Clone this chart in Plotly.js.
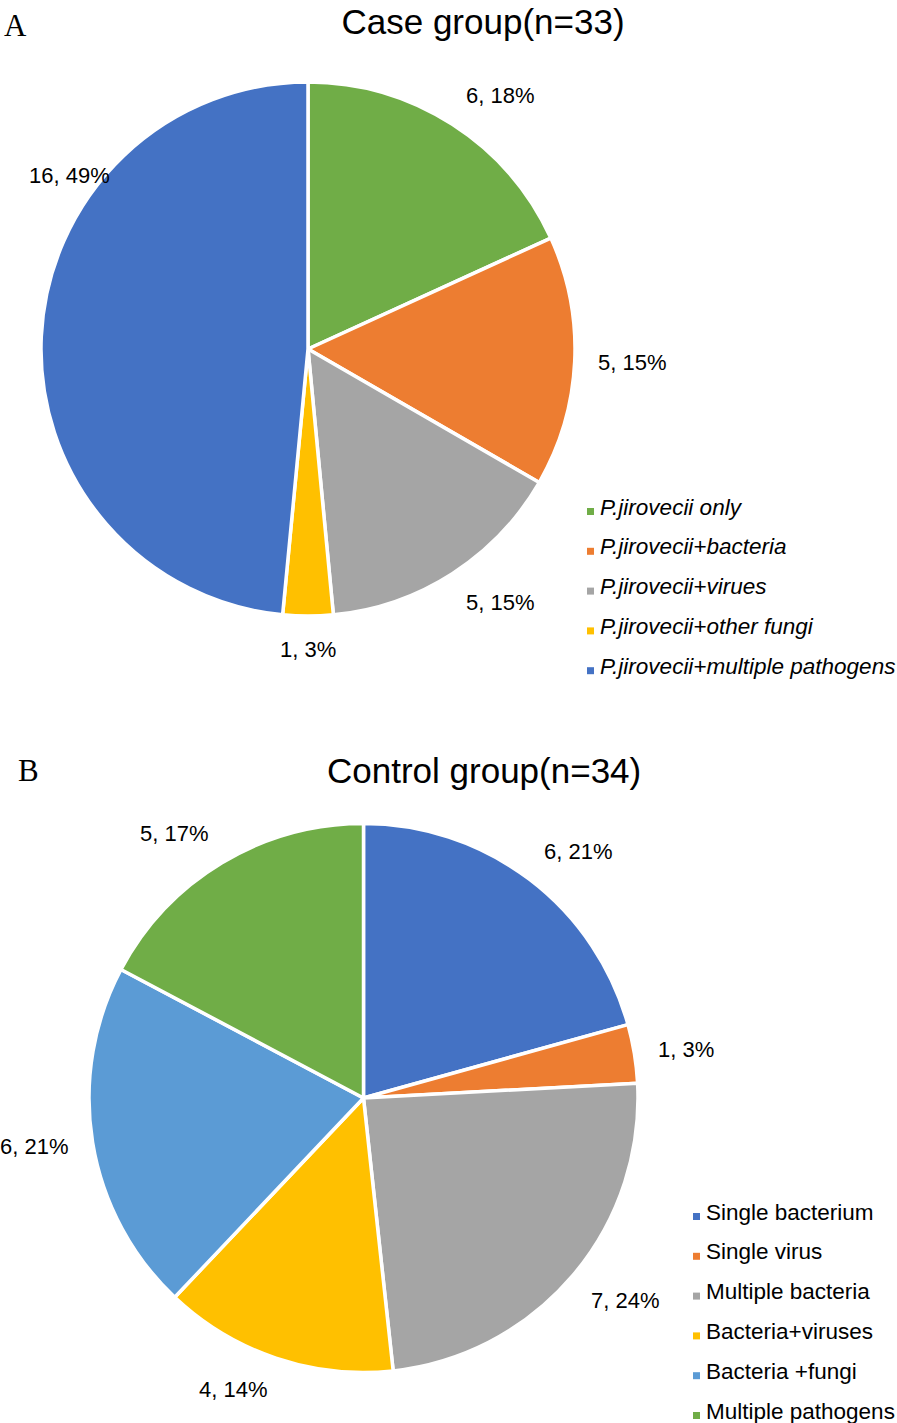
<!DOCTYPE html>
<html>
<head>
<meta charset="utf-8">
<script src="https://cdn.plot.ly/plotly-3.0.1.min.js"></script>
<style>html,body{margin:0;padding:0;background:#fff;} #chart{width:897px;height:1423px;}</style>
</head>
<body>
<div id="chart"></div>
<script>
// ---------- DATA ----------
const caseTitle = 'Case group(n=33)';
const caseLabels = ['P.jirovecii only', 'P.jirovecii+bacteria', 'P.jirovecii+virues', 'P.jirovecii+other fungi', 'P.jirovecii+multiple pathogens'];
const caseCounts = [6, 5, 5, 1, 16];
const casePercents = [18, 15, 15, 3, 49];

const controlTitle = 'Control group(n=34)';
const controlLabels = ['Single bacterium', 'Single virus', 'Multiple bacteria', 'Bacteria+viruses', 'Bacteria +fungi', 'Multiple pathogens'];
const controlCounts = [6, 1, 7, 4, 6, 5];
const controlPercents = [21, 3, 24, 14, 21, 17];

// ---------- STYLE / LAYOUT ----------
const W = 897, H = 1423;
const caseColors = ['#70AD47', '#ED7D31', '#A5A5A5', '#FFC000', '#4472C4'];
const controlColors = ['#4472C4', '#ED7D31', '#A5A5A5', '#FFC000', '#5B9BD5', '#70AD47'];
const SANS = 'Liberation Sans, Arial, sans-serif';
const SERIF = 'Liberation Serif, Times New Roman, serif';
const labelSize = 22, legendSize = 22.5, titleSize = 35;

const panels = [
  {letter: 'A', letterX: 15, letterY: 26, title: caseTitle, titleX: 483, titleY: 22,
   cx: 308, cy: 349, r: 267, labels: caseLabels, counts: caseCounts, pcts: casePercents,
   colors: caseColors, italic: true, legX: 590.5, legY: 507, legStep: 39.8,
   overrides: {4: {angle: 306, dist: 28}}},
  {letter: 'B', letterX: 28, letterY: 770, title: controlTitle, titleX: 484, titleY: 770,
   cx: 363.5, cy: 1098, r: 274.5, labels: controlLabels, counts: controlCounts, pcts: controlPercents,
   colors: controlColors, italic: false, legX: 696.5, legY: 1212, legStep: 39.8,
   overrides: {}}
];

const px = v => v / W;
const py = v => 1 - v / H;

const cnv = document.createElement('canvas');
const ctx = cnv.getContext('2d');
ctx.font = labelSize + 'px "Liberation Sans", Arial, sans-serif';
function textW(t) { return ctx.measureText(t).width; }

const traces = [];
const annotations = [];
const shapes = [];
const gap = 23, hh = 10;

panels.forEach((p, pi) => {
  traces.push({
    type: 'pie',
    values: p.counts,
    labels: p.labels,
    marker: {colors: p.colors, line: {color: '#ffffff', width: 3.5}},
    sort: false,
    direction: 'clockwise',
    rotation: 0,
    textinfo: 'none',
    hoverinfo: 'label+value+percent',
    showlegend: false,
    domain: {x: [px(p.cx - p.r), px(p.cx + p.r)], y: [py(p.cy + p.r), py(p.cy - p.r)]}
  });

  // data labels, positioned from the slice mid-angles
  const total = p.counts.reduce((a, b) => a + b, 0);
  let cum = 0;
  p.counts.forEach((v, i) => {
    const mid = (cum + v / 2) / total * 360;
    cum += v;
    const txt = v + ', ' + p.pcts[i] + '%';
    let x, y;
    const ov = p.overrides[i];
    if (ov) {
      const a = ov.angle * Math.PI / 180;
      x = p.cx + (p.r + ov.dist) * Math.sin(a);
      y = p.cy - (p.r + ov.dist) * Math.cos(a);
    } else {
      const a = mid * Math.PI / 180;
      const s = Math.sin(a), c = Math.cos(a);
      const Px = p.cx + (p.r + gap) * s, Py = p.cy - (p.r + gap) * c;
      const hw = textW(txt) / 2 + 1;
      const sx = Math.abs(s) < 0.1 ? 0 : Math.sign(s);
      const sy = Math.abs(c) < 0.2 ? 0 : Math.sign(c);
      x = Px + sx * hw;
      y = Py - sy * hh;
    }
    annotations.push({
      x: px(x), y: py(y), xref: 'paper', yref: 'paper', xanchor: 'center', yanchor: 'middle',
      text: txt, showarrow: false, font: {family: SANS, size: labelSize, color: '#000'}
    });
  });

  // legend entries
  p.labels.forEach((lab, i) => {
    const ry = p.legY + i * p.legStep;
    shapes.push({
      type: 'rect', xref: 'paper', yref: 'paper',
      x0: px(p.legX - 3.5), x1: px(p.legX + 3.5), y0: py(ry + 8), y1: py(ry + 1),
      fillcolor: p.colors[i], line: {width: 0}
    });
    annotations.push({
      x: px(p.legX + 7.5), y: py(ry), xref: 'paper', yref: 'paper', xanchor: 'left', yanchor: 'middle',
      text: p.italic ? '<i>' + lab + '</i>' : lab, showarrow: false,
      font: {family: SANS, size: legendSize, color: '#000'}
    });
  });

  // panel letter
  annotations.push({
    x: px(p.letterX), y: py(p.letterY), xref: 'paper', yref: 'paper', xanchor: 'center', yanchor: 'middle',
    text: p.letter, showarrow: false, font: {family: SERIF, size: 31, color: '#000'}
  });

  // second panel title as annotation
  if (pi === 1) {
    annotations.push({
      x: px(p.titleX), y: py(p.titleY), xref: 'paper', yref: 'paper', xanchor: 'center', yanchor: 'middle',
      text: p.title, showarrow: false, font: {family: SANS, size: titleSize, color: '#000'}
    });
  }
});

const layout = {
  width: W, height: H,
  margin: {l: 0, r: 0, t: 0, b: 0},
  paper_bgcolor: '#ffffff',
  showlegend: false,
  title: {
    text: panels[0].title, x: px(panels[0].titleX), xanchor: 'center', xref: 'paper',
    y: py(panels[0].titleY), yanchor: 'middle', yref: 'container',
    font: {family: SANS, size: titleSize, color: '#000'}
  },
  annotations: annotations,
  shapes: shapes
};

Plotly.newPlot('chart', traces, layout, {displayModeBar: false, staticPlot: true});
</script>
</body>
</html>
